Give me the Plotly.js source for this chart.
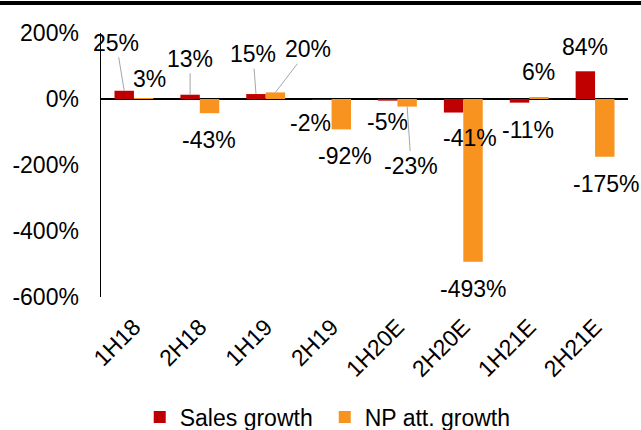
<!DOCTYPE html>
<html>
<head>
<meta charset="utf-8">
<script src="https://cdn.plot.ly/plotly-3.0.1.min.js"></script>
<style>
  body { margin: 0; background: #fff; overflow: hidden; }
  #chart { width: 641px; height: 430px; }
  #topbar { position: absolute; left: 0; top: 1px; width: 641px; height: 4px; background: #000; }
</style>
</head>
<body>
<div id="chart"></div>
<div id="topbar"></div>
<script>
// half-year periods
let categories = ['1H18', '2H18', '1H19', '2H19', '1H20E', '2H20E', '1H21E', '2H21E'];
// growth in %
let salesGrowth = [25, 13, 15, -2, -5, -41, -11, 84];
let npGrowth = [3, -43, 20, -92, -23, -493, 6, -175];
let yTicks = [200, 0, -200, -400, -600];

// label placement (px from bar end) and whether a leader line is drawn
let salesLabelPos = [[-8, -48, 1], [0, -36, 1], [-3, -40, 1], [-11, 23, 0], [0, 21, 0], [16, 25, 0], [9, 27, 0], [0, -24, 0]];
let npLabelPos = [[6, -19, 0], [-1, 27, 0], [33, -43, 1], [4, 27, 0], [4, 59, 1], [0, 27, 0], [0, -25, 0], [1, 27, 0]];

let font = 'Arial, "Liberation Sans", sans-serif';
let barShift = 9.7;

function makeLabels(values, pos, shift) {
    let out = [];
    values.forEach((v, i) => {
        let p = pos[i];
        let a = {
            x: categories[i], y: v, xref: 'x', yref: 'y',
            text: v + '%',
            font: { family: font, size: 23, color: '#000' },
            xanchor: 'center', yanchor: 'middle'
        };
        if (p[2]) {
            a.showarrow = true;
            a.arrowhead = 0;
            a.arrowwidth = 1;
            a.arrowcolor = '#A6A6A6';
            a.standoff = 0;
            a.ax = p[0];
            a.ay = p[1];
            a.xshift = shift;
        } else {
            a.showarrow = false;
            a.xshift = shift + p[0];
            a.yshift = -p[1];
        }
        out.push(a);
    });
    return out;
}

let traces = [
    {
        x: categories, y: salesGrowth, type: 'bar', name: 'Sales growth',
        marker: { color: '#C00000' }, hoverinfo: 'none'
    },
    {
        x: categories, y: npGrowth, type: 'bar', name: 'NP att. growth',
        marker: { color: '#F7931E' }, hoverinfo: 'none'
    }
];

let layout = {
    width: 641, height: 430,
    margin: { l: 101, r: 13, t: 33, b: 133 },
    paper_bgcolor: '#fff', plot_bgcolor: '#fff',
    font: { family: font, size: 23, color: '#000' },
    barmode: 'group', bargap: 0.41, bargroupgap: 0,
    showlegend: true,
    legend: {
        orientation: 'h', xref: 'container', yref: 'container',
        x: 0.218, xanchor: 'left', y: 0.08, yanchor: 'top',
        font: { family: font, size: 23, color: '#000' },
        entrywidth: 140, traceorder: 'normal'
    },
    xaxis: {
        type: 'category', range: [-0.5, 7.5], automargin: false,
        tickangle: -45, showline: false, showgrid: false, zeroline: false,
        ticks: '', ticklabelstandoff: 11,
        tickfont: { family: font, size: 23, color: '#000' }
    },
    yaxis: {
        range: [-600, 200], tickvals: yTicks, ticktext: yTicks.map(v => v + '%'),
        automargin: false,
        showgrid: false, showline: true, linecolor: '#000', linewidth: 1.5,
        zeroline: true, zerolinecolor: '#000', zerolinewidth: 1.5,
        ticks: '', ticklabelstandoff: 16,
        tickfont: { family: font, size: 23, color: '#000' }
    },
    annotations: makeLabels(salesGrowth, salesLabelPos, -barShift)
        .concat(makeLabels(npGrowth, npLabelPos, barShift))
};

Plotly.newPlot('chart', traces, layout, { staticPlot: true });
</script>
</body>
</html>
